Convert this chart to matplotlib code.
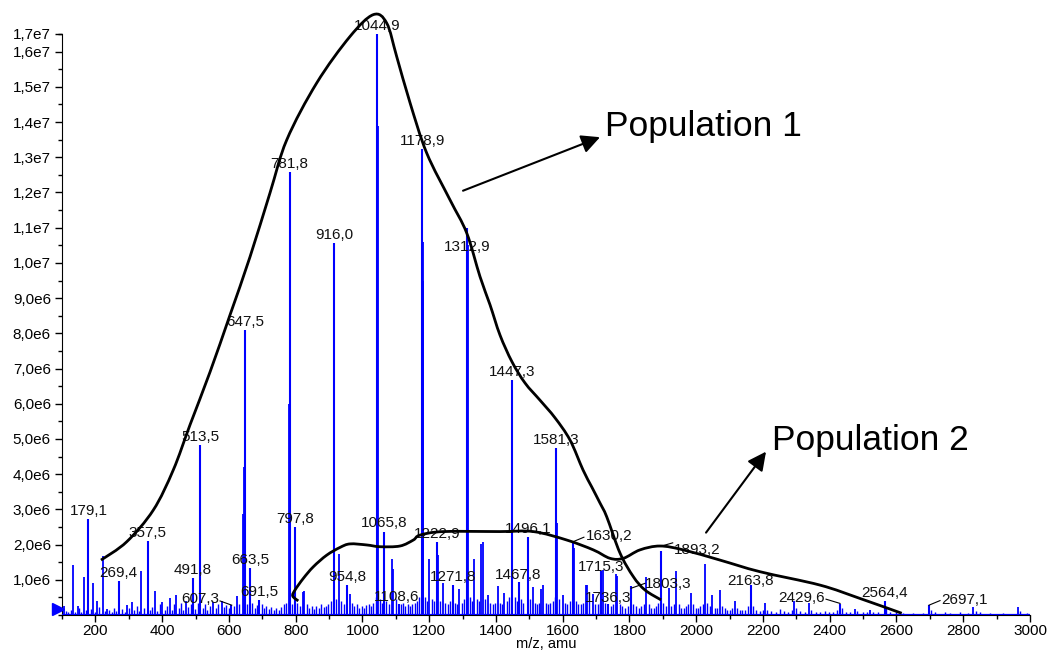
import matplotlib
matplotlib.use('Agg')
import matplotlib.pyplot as plt
from matplotlib.path import Path
from matplotlib.patches import PathPatch
from matplotlib.ticker import FixedLocator, MultipleLocator, FuncFormatter

plt.rcParams['font.family'] = ['Liberation Sans', 'DejaVu Sans']

# labelled peaks (m/z, intensity in 1e6 counts)
peak_mz = [179.1, 269.4, 357.5, 491.8, 513.5, 607.3, 647.5, 663.5, 691.5, 781.8,
           797.8, 916.0, 954.8, 1044.9, 1065.8, 1108.6, 1178.9, 1222.9, 1271.8, 1312.9,
           1447.3, 1467.8, 1496.1, 1581.3, 1630.2, 1715.3, 1736.3, 1803.3, 1893.2, 2163.8,
           2429.6, 2564.4, 2697.1]
peak_int = [2.72, 0.97, 2.10, 1.04, 4.83, 0.28, 8.10, 1.33, 0.43, 12.59,
            2.51, 10.57, 0.85, 16.50, 2.37, 0.30, 13.24, 2.08, 0.85, 11.00,
            6.68, 0.95, 2.22, 4.74, 2.04, 1.25, 0.30, 0.82, 1.83, 0.85,
            0.31, 0.40, 0.28]

# other clear peaks without a label
other_mz = [106, 132, 147, 165, 193, 204, 222, 234, 294, 309, 338, 378, 401, 423, 443, 471,
            553, 578, 623, 641, 645, 779.5, 783, 821, 826, 913.5, 929, 962, 1047, 1089.5,
            1093, 1181, 1182.5, 1200, 1226, 1242, 1290, 1315, 1334, 1355, 1360, 1375, 1405,
            1425, 1449, 1510, 1535, 1542, 1583, 1600, 1633, 1670, 1674, 1690, 1720, 1760,
            1764, 1850, 1917, 1939, 1983, 2026, 2048, 2071, 2116, 2206, 2294, 2339, 2475,
            2520, 2830, 2965]
other_int = [0.26, 1.42, 0.26, 1.07, 0.92, 0.40, 1.69, 0.18, 0.28, 0.37, 1.25, 0.69, 0.38,
             0.47, 0.57, 0.40, 0.38, 0.40, 0.53, 2.88, 4.20, 6.00, 2.20, 0.66, 0.69, 9.60,
             1.74, 0.60, 13.90, 1.60, 1.30, 10.60, 9.50, 1.60, 1.70, 0.90, 0.73, 10.50, 1.58,
             2.03, 2.08, 0.57, 0.82, 0.63, 4.80, 0.80, 0.73, 0.85, 2.60, 0.58, 1.90, 0.85,
             0.85, 0.60, 1.28, 1.17, 1.10, 1.08, 0.78, 1.25, 0.62, 1.44, 0.58, 0.70, 0.41,
             0.33, 0.41, 0.33, 0.18, 0.15, 0.22, 0.22]

# small baseline peaks
small_mz = [112, 118, 126, 139, 152, 158, 171, 186, 198, 212, 228, 241, 250, 257, 263, 281,
            288, 302, 316, 324, 331, 345, 364, 371, 386, 393, 409, 416, 430, 437, 450, 457,
            464, 478, 485, 499, 506, 521, 528, 535, 542, 560, 567, 585, 592, 600, 614, 630,
            655, 670, 678, 684, 698, 705, 712, 720, 727, 735, 742, 750, 757, 765, 772, 790,
            805, 812, 834, 841, 848, 855, 862, 870, 877, 884, 891, 898, 905, 921, 937, 944,
            969, 976, 983, 990, 998, 1005, 1012, 1019, 1026, 1033, 1040, 1052, 1058, 1072,
            1079, 1100, 1115, 1122, 1129, 1136, 1143, 1150, 1157, 1164, 1171, 1188, 1194,
            1207, 1214, 1232, 1248, 1256, 1263, 1278, 1284, 1298, 1305, 1322, 1328, 1342,
            1348, 1367, 1382, 1390, 1397, 1412, 1418, 1432, 1440, 1456, 1462, 1475, 1482,
            1503, 1516, 1522, 1529, 1549, 1556, 1563, 1570, 1576, 1590, 1607, 1614, 1621,
            1640, 1647, 1655, 1662, 1680, 1697, 1705, 1712, 1727, 1744, 1751, 1771, 1778,
            1786, 1795, 1812, 1820, 1828, 1836, 1843, 1858, 1866, 1873, 1880, 1886, 1900,
            1908, 1925, 1932, 1947, 1955, 1962, 1970, 1976, 1990, 1998, 2005, 2012, 2019,
            2033, 2040, 2055, 2062, 2078, 2085, 2093, 2100, 2108, 2123, 2130, 2138, 2146,
            2155, 2170, 2180, 2190, 2200, 2213, 2225, 2240, 2252, 2262, 2275, 2286, 2300,
            2312, 2325, 2345, 2358, 2370, 2385, 2398, 2410, 2422, 2436, 2450, 2462, 2482,
            2500, 2512, 2530, 2545, 2570, 2580, 2600, 2620, 2650, 2680, 2704, 2715, 2745,
            2760, 2790, 2815, 2838, 2850, 2880, 2920, 2970, 2990]
small_int = [0.12, 0.08, 0.15, 0.10, 0.20, 0.09, 0.13, 0.18, 0.10, 0.22, 0.12, 0.15, 0.10,
             0.20, 0.12, 0.18, 0.10, 0.20, 0.14, 0.25, 0.12, 0.20, 0.15, 0.22, 0.12, 0.30,
             0.15, 0.25, 0.14, 0.32, 0.20, 0.35, 0.15, 0.22, 0.30, 0.18, 0.35, 0.20, 0.30,
             0.15, 0.25, 0.20, 0.30, 0.22, 0.28, 0.20, 0.25, 0.30, 0.30, 0.35, 0.20, 0.28,
             0.30, 0.20, 0.25, 0.18, 0.22, 0.15, 0.20, 0.15, 0.22, 0.30, 0.35, 0.30, 0.35,
             0.25, 0.30, 0.20, 0.25, 0.18, 0.25, 0.20, 0.30, 0.22, 0.25, 0.30, 0.40, 0.45,
             0.40, 0.30, 0.35, 0.25, 0.30, 0.20, 0.25, 0.20, 0.28, 0.30, 0.25, 0.35, 0.50,
             0.45, 0.35, 0.40, 0.30, 0.45, 0.30, 0.35, 0.25, 0.30, 0.25, 0.30, 0.35, 0.40,
             0.50, 0.50, 0.40, 0.45, 0.40, 0.40, 0.35, 0.30, 0.40, 0.35, 0.30, 0.35, 0.45,
             0.50, 0.40, 0.45, 0.40, 0.45, 0.35, 0.30, 0.35, 0.35, 0.30, 0.40, 0.50, 0.50,
             0.40, 0.45, 0.35, 0.45, 0.35, 0.30, 0.35, 0.35, 0.30, 0.35, 0.40, 0.50, 0.45,
             0.35, 0.30, 0.40, 0.40, 0.30, 0.30, 0.35, 0.40, 0.30, 0.30, 0.35, 0.35, 0.25,
             0.30, 0.30, 0.25, 0.20, 0.25, 0.30, 0.25, 0.20, 0.25, 0.30, 0.30, 0.20, 0.20,
             0.25, 0.35, 0.35, 0.25, 0.25, 0.30, 0.30, 0.20, 0.20, 0.25, 0.30, 0.30, 0.20,
             0.20, 0.25, 0.30, 0.35, 0.25, 0.20, 0.20, 0.25, 0.20, 0.15, 0.15, 0.20, 0.20,
             0.15, 0.15, 0.15, 0.25, 0.25, 0.15, 0.12, 0.15, 0.15, 0.12, 0.10, 0.18, 0.12,
             0.10, 0.15, 0.20, 0.12, 0.10, 0.15, 0.10, 0.08, 0.12, 0.10, 0.10, 0.15, 0.20,
             0.10, 0.08, 0.12, 0.10, 0.10, 0.08, 0.10, 0.20, 0.10, 0.08, 0.06, 0.06, 0.06,
             0.15, 0.10, 0.10, 0.06, 0.08, 0.06, 0.12, 0.08, 0.07, 0.06, 0.12, 0.06]

# hand-drawn envelopes (m/z, intensity 1e6)
pop1_mz = [216.8, 293.8, 373.5, 433.4, 483.5, 543.4, 603.3, 663.2, 723.2, 773.2, 863.1,
           962.8, 1032.6, 1072.8, 1102.7, 1142.6, 1192.6, 1262.4, 1312.4, 1352.3, 1382.3,
           1412.2, 1448.2, 1487.1, 1532.1, 1577.0, 1621.9, 1660.9, 1686.9, 1711.8, 1731.9,
           1771.7, 1811.6, 1846.6, 1894.6]
pop1_int = [1.56, 2.08, 2.98, 4.12, 5.40, 6.90, 8.52, 10.17, 11.99, 13.49, 15.11,
            16.43, 17.05, 16.81, 15.86, 14.55, 13.12, 11.79, 10.85, 9.61, 8.81,
            7.95, 7.19, 6.59, 6.10, 5.60, 4.97, 4.12, 3.64, 3.18, 2.79,
            1.76, 1.09, 0.71, 0.43]
pop2_mz = [807.9, 791.2, 798.1, 822.9, 852.9, 893.0, 932.9, 962.8, 1012.9, 1052.7, 1112.6,
           1152.5, 1172.6, 1242.4, 1412.2, 1512.0, 1612.1, 1691.7, 1741.8, 1781.6, 1831.5,
           1891.4, 1961.4, 2071.3, 2191.2, 2370.9, 2490.8, 2615.7]
pop2_int = [0.40, 0.54, 0.71, 1.04, 1.37, 1.70, 1.92, 2.02, 1.99, 1.94, 1.96,
            2.13, 2.27, 2.37, 2.37, 2.37, 2.13, 1.85, 1.61, 1.61, 1.85,
            1.96, 1.85, 1.56, 1.23, 0.85, 0.47, 0.05]

# label positions that are not straight above the peak
label_pos = {607.3: (513.4, 0.45), 1108.6: (1103.7, 0.52), 1312.9: (1312.9, 10.46),
             1467.8: (1467.8, 1.14), 1630.2: (1738.8, 2.24), 1715.3: (1714.2, 1.37),
             1736.3: (1735.8, 0.47), 1803.3: (1915.5, 0.87), 1893.2: (2003.9, 1.85),
             2163.8: (2163.8, 0.97), 2429.6: (2316.4, 0.49), 2697.1: (2802.3, 0.43)}
leaders = {607.3: ((573.4, 0.40), (608.4, 0.28)), 1630.2: ((1630.5, 2.08), (1663.5, 2.21)),
           1803.3: ((1804.7, 0.76), (1846.6, 0.90)), 1893.2: ((1896.6, 1.96), (1929.6, 2.05)),
           2429.6: ((2388.9, 0.45), (2430.8, 0.33)), 2697.1: ((2697.4, 0.28), (2730.4, 0.41))}

blue = '#0000ff'
E6 = 1e6
ymax = 16.51


def smooth_path(xs, ys):
    # cubic bezier through the traced points (catmull-rom style handles)
    pts = list(zip(xs, ys))
    verts = [pts[0]]
    codes = [Path.MOVETO]
    n = len(pts)
    for i in range(n - 1):
        p0 = pts[max(i - 1, 0)]
        p1 = pts[i]
        p2 = pts[i + 1]
        p3 = pts[min(i + 2, n - 1)]
        c1 = (p1[0] + (p2[0] - p0[0]) / 6, p1[1] + (p2[1] - p0[1]) / 6)
        c2 = (p2[0] - (p3[0] - p1[0]) / 6, p2[1] - (p3[1] - p1[1]) / 6)
        verts += [c1, c2, p2]
        codes += [Path.CURVE4] * 3
    return Path(verts, codes)


fig = plt.figure(figsize=(10.49, 6.5), dpi=100)
ax = fig.add_axes([0.0591, 0.0538, 0.9228, 0.8944])

ax.vlines(small_mz, 0, [v * E6 for v in small_int], color=blue, lw=1.0, zorder=3)
ax.vlines(other_mz, 0, [v * E6 for v in other_int], color=blue, lw=1.3, zorder=3)
ax.vlines(peak_mz, 0, [v * E6 for v in peak_int], color=blue, lw=1.5, zorder=3)
ax.plot([100, 3000], [0, 0], color=blue, lw=1.6, zorder=3)

# peak labels
for mz, h in zip(peak_mz, peak_int):
    lx, ly = label_pos.get(mz, (mz, h + 0.23))
    ax.text(lx, ly * E6, f"{mz:.1f}".replace('.', ','), ha='center', va='center',
            fontsize=11, color='#111111', zorder=5)
for mz, (p0, p1) in leaders.items():
    ax.plot([p0[0], p1[0]], [p0[1] * E6, p1[1] * E6], color='black', lw=0.8, zorder=5)

# envelopes
for xs, ys in [(pop1_mz, pop1_int), (pop2_mz, pop2_int)]:
    patch = PathPatch(smooth_path(xs, [v * E6 for v in ys]), facecolor='none',
                      edgecolor='black', lw=2, clip_on=False, zorder=6)
    ax.add_patch(patch)

# arrows and captions
ax.annotate('', xy=(1711.8, 13.57 * E6), xytext=(1301.4, 12.05 * E6),
            arrowprops=dict(arrowstyle='-|>', mutation_scale=28, lw=1.5, color='black',
                            shrinkA=0, shrinkB=0))
ax.text(1726.8, 13.59 * E6, 'Population 1', fontsize=25.5, ha='left', va='baseline')
ax.annotate('', xy=(2209.1, 4.64 * E6), xytext=(2029.4, 2.34 * E6),
            arrowprops=dict(arrowstyle='-|>', mutation_scale=28, lw=1.5, color='black',
                            shrinkA=0, shrinkB=0))
ax.text(2226.3, 4.69 * E6, 'Population 2', fontsize=25.5, ha='left', va='baseline')

# little start marker on the y axis
ax.plot([88], [0.17 * E6], marker='>', color=blue, ms=9, clip_on=False, zorder=6)

ax.set_xlim(100, 3000)
ax.set_ylim(0, ymax * E6)
ax.spines['top'].set_visible(False)
ax.spines['right'].set_visible(False)

ax.xaxis.set_major_locator(FixedLocator(list(range(200, 3001, 200))))
ax.xaxis.set_minor_locator(MultipleLocator(100))
yt = [i * E6 for i in range(1, 17)] + [ymax * E6]
ax.yaxis.set_major_locator(FixedLocator(yt))
ax.yaxis.set_minor_locator(MultipleLocator(0.5 * E6))


def fmt_y(v, pos):
    if v >= 9.99e6:
        return f"{v / 1e7:.1f}e7".replace('.', ',')
    return f"{v / 1e6:.1f}e6".replace('.', ',')


ax.yaxis.set_major_formatter(FuncFormatter(fmt_y))
ax.tick_params(axis='both', which='major', labelsize=11, length=5, width=1, colors='black')
ax.tick_params(axis='both', which='minor', length=3, width=1)
ax.tick_params(axis='y', pad=3)
ax.tick_params(axis='x', pad=1.5)
ax.set_xlabel('m/z, amu', fontsize=10.5, labelpad=-1)

fig.savefig('out.png', dpi=100)
